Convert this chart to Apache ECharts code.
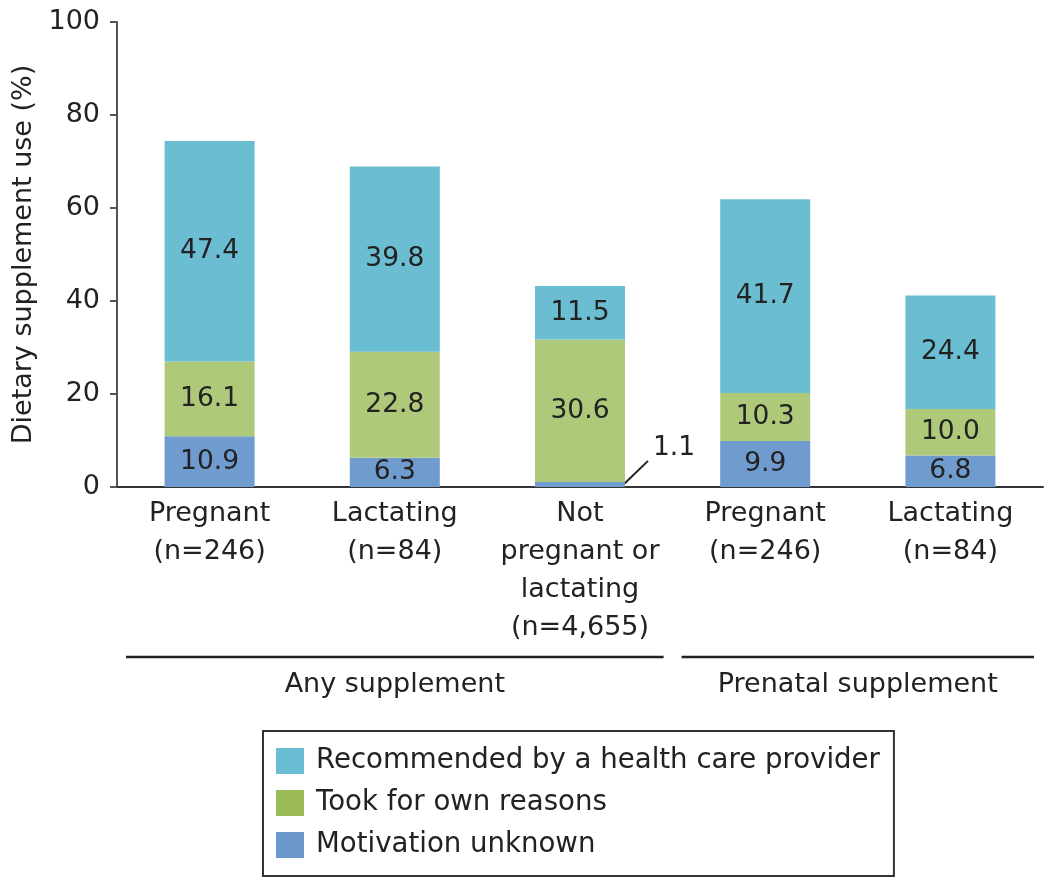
<!DOCTYPE html>
<html><head><meta charset="utf-8">
<script src="https://cdn.jsdelivr.net/npm/echarts@6/dist/echarts.min.js"></script>
<style>html,body{margin:0;padding:0;background:#fff}#c{width:1050px;height:882px}</style>
</head><body><div id="c"></div>
<script>
const categories = ['anyPregnant','anyLactating','anyNeither','prenatalPregnant','prenatalLactating'];
const tickLabels = ['Pregnant\n(n=246)','Lactating\n(n=84)','Not\npregnant or\nlactating\n(n=4,655)','Pregnant\n(n=246)','Lactating\n(n=84)'];
const motivationUnknown = [10.9, 6.3, 1.1, 9.9, 6.8];
const ownReasons = [16.1, 22.8, 30.6, 10.3, 10.0];
const recommended = [47.4, 39.8, 11.5, 41.7, 24.4];
const yTicks = [0, 20, 40, 60, 80, 100];
const groupNames = ['Any supplement', 'Prenatal supplement'];
const groupFirst = [0, 3];
const groupLast = [2, 4];
const seriesNames = ['Recommended by a health care provider', 'Took for own reasons', 'Motivation unknown'];

const FONT = 'DejaVu Sans';
const TXT = '#222';
const colRec = '#6bbdd2', colOwn = '#afc97a', colUnk = '#6f9bcf';
const legRec = '#6bbdd3', legOwn = '#9bbb59', legUnk = '#6a98cd';
const outsideIdx = 2;
const BAR_FRAC = 0.486;

const chart = echarts.init(document.getElementById('c'), null, {renderer: 'canvas'});

function lbl() {
  return {show: true, position: 'inside', color: TXT, fontFamily: FONT, fontSize: 26.5,
    formatter: p => Number(p.value).toFixed(1)};
}

const option = {
  animation: false,
  backgroundColor: '#fff',
  grid: {left: 117, right: 7, top: 22, bottom: 395, containLabel: false},
  xAxis: {
    type: 'category', data: categories,
    axisLine: {show: true, lineStyle: {color: '#333', width: 2}},
    axisTick: {show: false},
    axisLabel: {interval: 0, color: TXT, fontFamily: FONT, fontSize: 27, lineHeight: 38, margin: 8,
      formatter: (v, i) => tickLabels[i]}
  },
  yAxis: {
    type: 'value', min: yTicks[0], max: yTicks[yTicks.length - 1], interval: yTicks[1] - yTicks[0],
    name: 'Dietary supplement use (%)', nameLocation: 'middle', nameGap: 80,
    nameTextStyle: {color: TXT, fontFamily: FONT, fontSize: 27},
    axisLine: {show: true, lineStyle: {color: '#555', width: 2}},
    axisTick: {show: true, length: 7, lineStyle: {color: '#555', width: 2}},
    axisLabel: {color: TXT, fontFamily: FONT, fontSize: 27, margin: 17},
    splitLine: {show: false}
  },
  legend: {
    orient: 'vertical', left: 263, top: 731,
    padding: [16, 14, 17, 13],
    itemWidth: 28, itemHeight: 26, itemGap: 14,
    borderColor: '#333', borderWidth: 2, borderRadius: 0,
    icon: 'rect', selectedMode: false,
    textStyle: {color: TXT, fontFamily: FONT, fontSize: 27.6, lineHeight: 26, padding: [0, 0, 0, 7]},
    data: [
      {name: seriesNames[0], itemStyle: {color: legRec}},
      {name: seriesNames[1], itemStyle: {color: legOwn}},
      {name: seriesNames[2], itemStyle: {color: legUnk}}
    ]
  },
  series: [
    {name: seriesNames[2], type: 'bar', stack: 's', barWidth: (BAR_FRAC * 100) + '%', data: motivationUnknown,
      itemStyle: {color: colUnk}, label: lbl(),
      labelLayout: p => p.dataIndex === outsideIdx ? {
        x: p.rect.x + p.rect.width + 28, y: p.rect.y - 34, align: 'left', verticalAlign: 'middle'
      } : {},
      emphasis: {disabled: true}},
    {name: seriesNames[1], type: 'bar', stack: 's', data: ownReasons,
      itemStyle: {color: colOwn}, label: lbl(), emphasis: {disabled: true}},
    {name: seriesNames[0], type: 'bar', stack: 's', data: recommended,
      itemStyle: {color: colRec}, label: lbl(), emphasis: {disabled: true}}
  ]
};
chart.setOption(option);

// group brackets and the leader line, placed from the axis scale
const px = c => chart.convertToPixel({xAxisIndex: 0}, categories[c]);
const band = px(1) - px(0);
const y0 = chart.convertToPixel({yAxisIndex: 0}, 0);
const half = band / 2 - 9;
const elements = [];
groupNames.forEach((g, k) => {
  const xa = px(groupFirst[k]) - half, xb = px(groupLast[k]) + half;
  elements.push({type: 'line', shape: {x1: xa, y1: y0 + 170, x2: xb, y2: y0 + 170},
    style: {stroke: '#222', lineWidth: 2.5}, silent: true});
  elements.push({type: 'text', x: (xa + xb) / 2, y: y0 + 198,
    style: {text: g, fill: TXT, font: '27px "' + FONT + '"', textAlign: 'center', textVerticalAlign: 'middle'}, silent: true});
});
const barRight = px(outsideIdx) + band * BAR_FRAC / 2;
const yTop = chart.convertToPixel({yAxisIndex: 0}, motivationUnknown[outsideIdx]);
elements.push({type: 'line', shape: {x1: barRight - 3, y1: y0 - 1, x2: barRight + 23, y2: yTop - 21},
  style: {stroke: TXT, lineWidth: 2}, silent: true});
chart.setOption({graphic: {elements: elements}});
</script></body></html>
